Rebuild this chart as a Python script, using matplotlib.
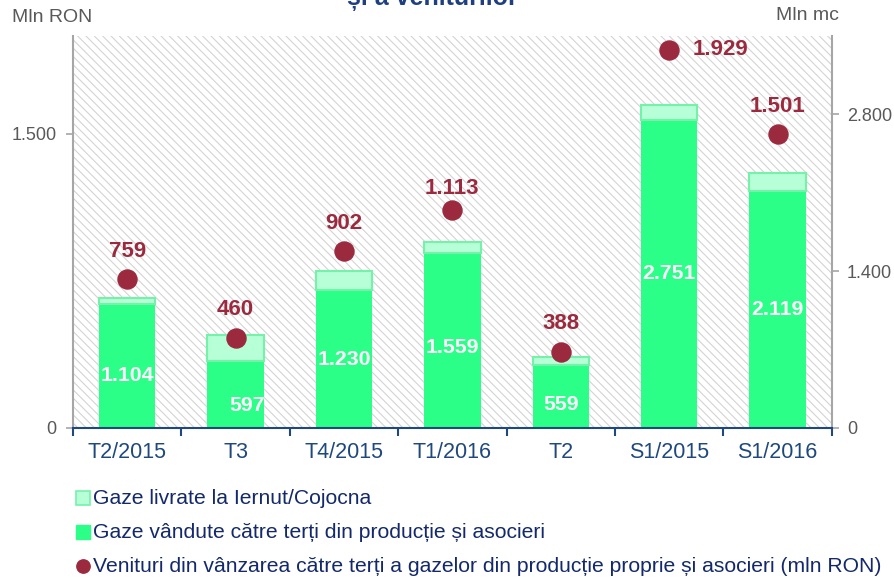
import matplotlib
matplotlib.use('Agg')
import matplotlib.pyplot as plt
from matplotlib.patches import Rectangle
from matplotlib.lines import Line2D
from matplotlib.ticker import FixedLocator, FuncFormatter, NullFormatter
import numpy as np

# ---- data ----
categories = ['T2/2015', 'T3', 'T4/2015', 'T1/2016', 'T2', 'S1/2015', 'S1/2016']
sold_gas = [1104, 597, 1230, 1559, 559, 2751, 2119]       # Mln mc (right axis)
iernut_gas = [60, 232, 173, 100, 72, 131, 160]            # Mln mc (right axis)
revenue = [759, 460, 902, 1113, 388, 1929, 1501]          # Mln RON (left axis)
left_ticks = [0, 1500]
right_ticks = [0, 1400, 2800]
legend_labels = ['Gaze livrate la Iernut/Cojocna',
                 'Gaze vândute către terți din producție și asocieri',
                 'Venituri din vânzarea către terți a gazelor din producție proprie și asocieri (mln RON)']

# label offsets in pixels (dx, dy) relative to default positions
bar_label_off = [(0, -9), (11, -11), (0, 0), (0, -7), (0, -8), (0, 0), (0, 0)]
dot_label_off = [(0, 28), (0, 28), (0, 28), (0, 21), (0, 28), (51, 0), (0, 27)]

C_DARK = '#2BFF88'
C_LIGHT = '#B7FFD6'
C_LIGHT_EDGE = '#74F2AA'
C_DOT = '#9B2A3F'
C_AX_BLUE = '#1F497D'
C_GREY = '#595959'
C_SPINE = '#A6A6A6'
C_LEG = '#13296B'


def fmt(v, pos=None):
    return f'{v:,.0f}'.replace(',', '.')


plt.rcParams['font.family'] = ['Liberation Sans', 'DejaVu Sans']
plt.rcParams['hatch.linewidth'] = 0.8

W, H = 895, 578
fig = plt.figure(figsize=(W / 100, H / 100), dpi=100)
ax = fig.add_axes([73 / W, 1 - 428 / H, (831.7 - 73) / W, (428 - 36) / H])
ax2 = ax.twinx()
ax.set_zorder(ax2.get_zorder() + 1)
ax.patch.set_visible(False)

x = np.arange(len(categories))

# hatched background
bg = Rectangle((0, 0), 1, 1, transform=ax2.transAxes, facecolor='white',
               edgecolor='#D4D4D4', linewidth=0, hatch='\\\\\\\\', zorder=0)
ax2.add_patch(bg)

# bars on right axis
ax2.bar(x, sold_gas, width=0.52, color=C_DARK, linewidth=0, zorder=2)
ax2.bar(x, iernut_gas, bottom=sold_gas, width=0.52, color=C_LIGHT,
        edgecolor=C_LIGHT_EDGE, linewidth=1.5, zorder=2)
ax2.set_ylim(0, 3500)

# bar labels
for i, v in enumerate(sold_gas):
    dx, dy = bar_label_off[i]
    ax2.annotate(fmt(v), (x[i], v / 2), xytext=(dx * 0.72, dy * 0.72),
                 textcoords='offset points', ha='center', va='center',
                 color='white', fontsize=15.3, fontweight='bold', zorder=5)

# revenue dots on left axis
ax.plot(x, revenue, linestyle='none', marker='o', markersize=13.7,
        color=C_DOT, zorder=3)
ax.set_ylim(0, 2000)
for i, v in enumerate(revenue):
    dx, dy = dot_label_off[i]
    ax.annotate(fmt(v), (x[i], v), xytext=(dx * 0.72, dy * 0.72),
                textcoords='offset points', ha='center', va='center',
                color=C_DOT, fontsize=16, fontweight='bold', zorder=5)

# x axis
ax.set_xlim(-0.5, len(categories) - 0.5)
ax.xaxis.set_major_locator(FixedLocator(np.arange(-0.5, len(categories), 1.0)))
ax.xaxis.set_major_formatter(NullFormatter())
ax.xaxis.set_minor_locator(FixedLocator(x))
ax.set_xticklabels(categories, minor=True)
ax.tick_params(axis='x', which='major', direction='out', length=6, width=1.5,
               color=C_AX_BLUE)
ax.tick_params(axis='x', which='minor', length=0, pad=10, labelsize=15.5,
               labelcolor=C_AX_BLUE)

# left y axis
ax.yaxis.set_major_locator(FixedLocator(left_ticks))
ax.yaxis.set_major_formatter(FuncFormatter(fmt))
ax.tick_params(axis='y', direction='out', length=5, width=1.2, color=C_SPINE,
               labelcolor=C_GREY, labelsize=13, pad=7)

# right y axis
ax2.yaxis.set_major_locator(FixedLocator(right_ticks))
ax2.yaxis.set_major_formatter(FuncFormatter(fmt))
ax2.tick_params(axis='y', direction='out', length=5, width=1.2, color=C_SPINE,
                labelcolor=C_GREY, labelsize=13, pad=6)

# spines
for s in ['top', 'right']:
    ax.spines[s].set_visible(False)
for s in ['top', 'left', 'bottom']:
    ax2.spines[s].set_visible(False)
ax.spines['left'].set_color(C_SPINE)
ax.spines['left'].set_linewidth(1.5)
ax.spines['bottom'].set_color(C_AX_BLUE)
ax.spines['bottom'].set_linewidth(1.5)
ax2.spines['right'].set_color(C_SPINE)
ax2.spines['right'].set_linewidth(1.5)

# axis unit labels and (cut) title
fig.text(12 / W, 1 - 18 / H, 'Mln RON', ha='left', va='center',
         fontsize=14, color=C_GREY)
fig.text(807 / W, 1 - 16 / H, 'Mln mc', ha='center', va='center',
         fontsize=14, color=C_GREY)
fig.text(432 / W, 1 - 5 / H, 'și a veniturilor', ha='center', va='baseline',
         fontsize=18, fontweight='bold', color='#1F3F80')

# legend (manual)
rows_y = [498, 532, 566]
handles = [dict(marker='s', ms=9.4, mfc=C_LIGHT, mec=C_LIGHT_EDGE, mew=1.2),
           dict(marker='s', ms=9.4, mfc=C_DARK, mec=C_DARK, mew=1.0),
           dict(marker='o', ms=9.6, mfc=C_DOT, mec=C_DOT, mew=1.0)]
for yy, lab, h in zip(rows_y, legend_labels, handles):
    fig.add_artist(Line2D([83.5 / W], [1 - yy / H], transform=fig.transFigure,
                          linestyle='none', **h))
    fig.text(93 / W, 1 - yy / H, lab, ha='left', va='center', fontsize=15.2,
             color=C_LEG)

fig.savefig('out.png', dpi=100)
